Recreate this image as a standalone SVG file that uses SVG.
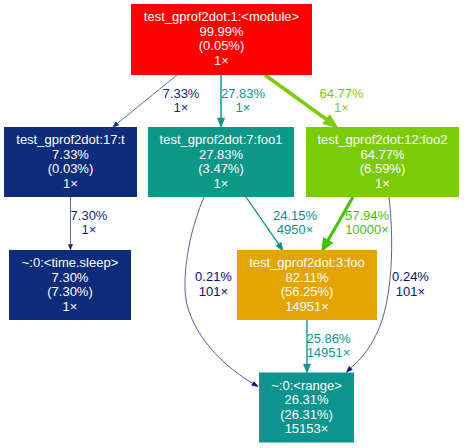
<svg xmlns="http://www.w3.org/2000/svg" width="464" height="448" viewBox="0 0 464 448">
<style>
text{font-family:"Liberation Sans",Arial,sans-serif;font-size:13px;text-anchor:middle}
.n text{fill:#ffffff}
.e path{fill:none}
</style>
<rect width="464" height="448" fill="#ffffff"/>
<g id="connectors" class="e">
  <g id="e1">
    <path d="M177,75 L117.3,123.5" stroke="#0d2d7c" stroke-width="0.67"/>
    <polygon points="113,127 118.7,125.2 115.9,121.8" fill="#0d2d7c" stroke="#0d2d7c" stroke-width="0.67"/>
    <text x="181" y="97.8" fill="#0d2d7c">7.33%</text>
    <text x="181" y="112.3" fill="#0d2d7c">1×</text>
  </g>
  <g id="e2">
    <path d="M221,75 L221,118.5" stroke="#0c9787" stroke-width="1.48"/>
    <polygon points="221,126.3 224,118.5 218,118.5" fill="#0c9787" stroke="#0c9787" stroke-width="1.48"/>
    <text x="243" y="97.8" fill="#0c9787">27.83%</text>
    <text x="243" y="112.3" fill="#0c9787">1×</text>
  </g>
  <g id="e3">
    <path d="M265,75 L327.4,120" stroke="#7bcb07" stroke-width="3.45"/>
    <polygon points="335,125.6 325.2,123 329.6,117" fill="#7bcb07" stroke="#7bcb07" stroke-width="3.45"/>
    <text x="341.5" y="97.8" fill="#7bcb07">64.77%</text>
    <text x="341.5" y="112.3" fill="#7bcb07">1×</text>
  </g>
  <g id="e4">
    <path d="M70.5,197 L70.5,244.5" stroke="#0d2c7c" stroke-width="0.67"/>
    <polygon points="70.5,249.7 72.5,244.5 68.5,244.5" fill="#0d2c7c" stroke="#0d2c7c" stroke-width="0.67"/>
    <text x="89" y="219.5" fill="#0d2c7c">7.30%</text>
    <text x="89" y="234" fill="#0d2c7c">1×</text>
  </g>
  <g id="e5">
    <path d="M246,197 L278.8,244.4" stroke="#0c8e92" stroke-width="1.29"/>
    <polygon points="282.5,250.3 276.6,245.8 281,243" fill="#0c8e92" stroke="#0c8e92" stroke-width="1.29"/>
    <text x="295" y="219.5" fill="#0c8e92">24.15%</text>
    <text x="295" y="234" fill="#0c8e92">4950×</text>
  </g>
  <g id="e6">
    <path d="M353,197 L327.5,241.2" stroke="#43c108" stroke-width="3.09"/>
    <polygon points="323,249 324.4,239.5 330.6,243" fill="#43c108" stroke="#43c108" stroke-width="3.09"/>
    <text x="367" y="219.5" fill="#43c108">57.94%</text>
    <text x="367" y="234" fill="#43c108">10000×</text>
  </g>
  <g id="e7">
    <path d="M204,197 C192,225 184,260 185,290 C186,325 216,362 252.9,383.4" stroke="#0d0e73" stroke-width="0.67"/>
    <polygon points="258,386.5 251.7,385.3 254,381.5" fill="#0d0e73" stroke="#0d0e73" stroke-width="0.67"/>
    <text x="213.5" y="280.5" fill="#0d0e73">0.21%</text>
    <text x="213.5" y="295.5" fill="#0d0e73">101×</text>
  </g>
  <g id="e8">
    <path d="M389,197 C394,240 393,300 377,333 C369,350 360,360 350.7,368" stroke="#0d0f73" stroke-width="0.67"/>
    <polygon points="346.5,372.3 352.3,369.5 349.1,366.5" fill="#0d0f73" stroke="#0d0f73" stroke-width="0.67"/>
    <text x="410.5" y="280.5" fill="#0d0f73">0.24%</text>
    <text x="410.5" y="295.5" fill="#0d0f73">101×</text>
  </g>
  <g id="e9">
    <path d="M307,320 L307,364.5" stroke="#0c9590" stroke-width="1.38"/>
    <polygon points="307,371.8 310,364.5 304,364.5" fill="#0c9590" stroke="#0c9590" stroke-width="1.38"/>
    <text x="328.5" y="342.8" fill="#0c9590">25.86%</text>
    <text x="328.5" y="357.3" fill="#0c9590">14951×</text>
  </g>
</g>
<g id="module" class="n">
  <rect x="131" y="4" width="181" height="71" fill="#ff0000"/>
  <text x="221.5" y="21.3">test_gprof2dot:1:&lt;module&gt;</text>
  <text x="221.5" y="35.8">99.99%</text>
  <text x="221.5" y="50.3">(0.05%)</text>
  <text x="221.5" y="64.8">1×</text>
</g>
<g id="t" class="n">
  <rect x="4" y="127" width="133" height="70" fill="#0d2d7c"/>
  <text x="70.5" y="144">test_gprof2dot:17:t</text>
  <text x="70.5" y="158.5">7.33%</text>
  <text x="70.5" y="173">(0.03%)</text>
  <text x="70.5" y="187.5">1×</text>
</g>
<g id="foo1" class="n">
  <rect x="148" y="127" width="146" height="70" fill="#0c9787"/>
  <text x="221" y="144">test_gprof2dot:7:foo1</text>
  <text x="221" y="158.5">27.83%</text>
  <text x="221" y="173">(3.47%)</text>
  <text x="221" y="187.5">1×</text>
</g>
<g id="foo2" class="n">
  <rect x="306" y="127" width="153" height="70" fill="#7bcb07"/>
  <text x="382.5" y="144">test_gprof2dot:12:foo2</text>
  <text x="382.5" y="158.5">64.77%</text>
  <text x="382.5" y="173">(6.59%)</text>
  <text x="382.5" y="187.5">1×</text>
</g>
<g id="sleep" class="n">
  <rect x="9" y="250" width="122" height="70" fill="#0d2c7c"/>
  <text x="70" y="267">~:0:&lt;time.sleep&gt;</text>
  <text x="70" y="281.5">7.30%</text>
  <text x="70" y="296">(7.30%)</text>
  <text x="70" y="310.5">1×</text>
</g>
<g id="foo" class="n">
  <rect x="237" y="250" width="140" height="70" fill="#e4a404"/>
  <text x="307" y="267">test_gprof2dot:3:foo</text>
  <text x="307" y="281.5">82.11%</text>
  <text x="307" y="296">(56.25%)</text>
  <text x="307" y="310.5">14951×</text>
</g>
<g id="range" class="n">
  <rect x="259" y="372.5" width="95" height="70" fill="#0c958e"/>
  <text x="306.5" y="389.5">~:0:&lt;range&gt;</text>
  <text x="306.5" y="404">26.31%</text>
  <text x="306.5" y="418.5">(26.31%)</text>
  <text x="306.5" y="433">15153×</text>
</g>
</svg>
